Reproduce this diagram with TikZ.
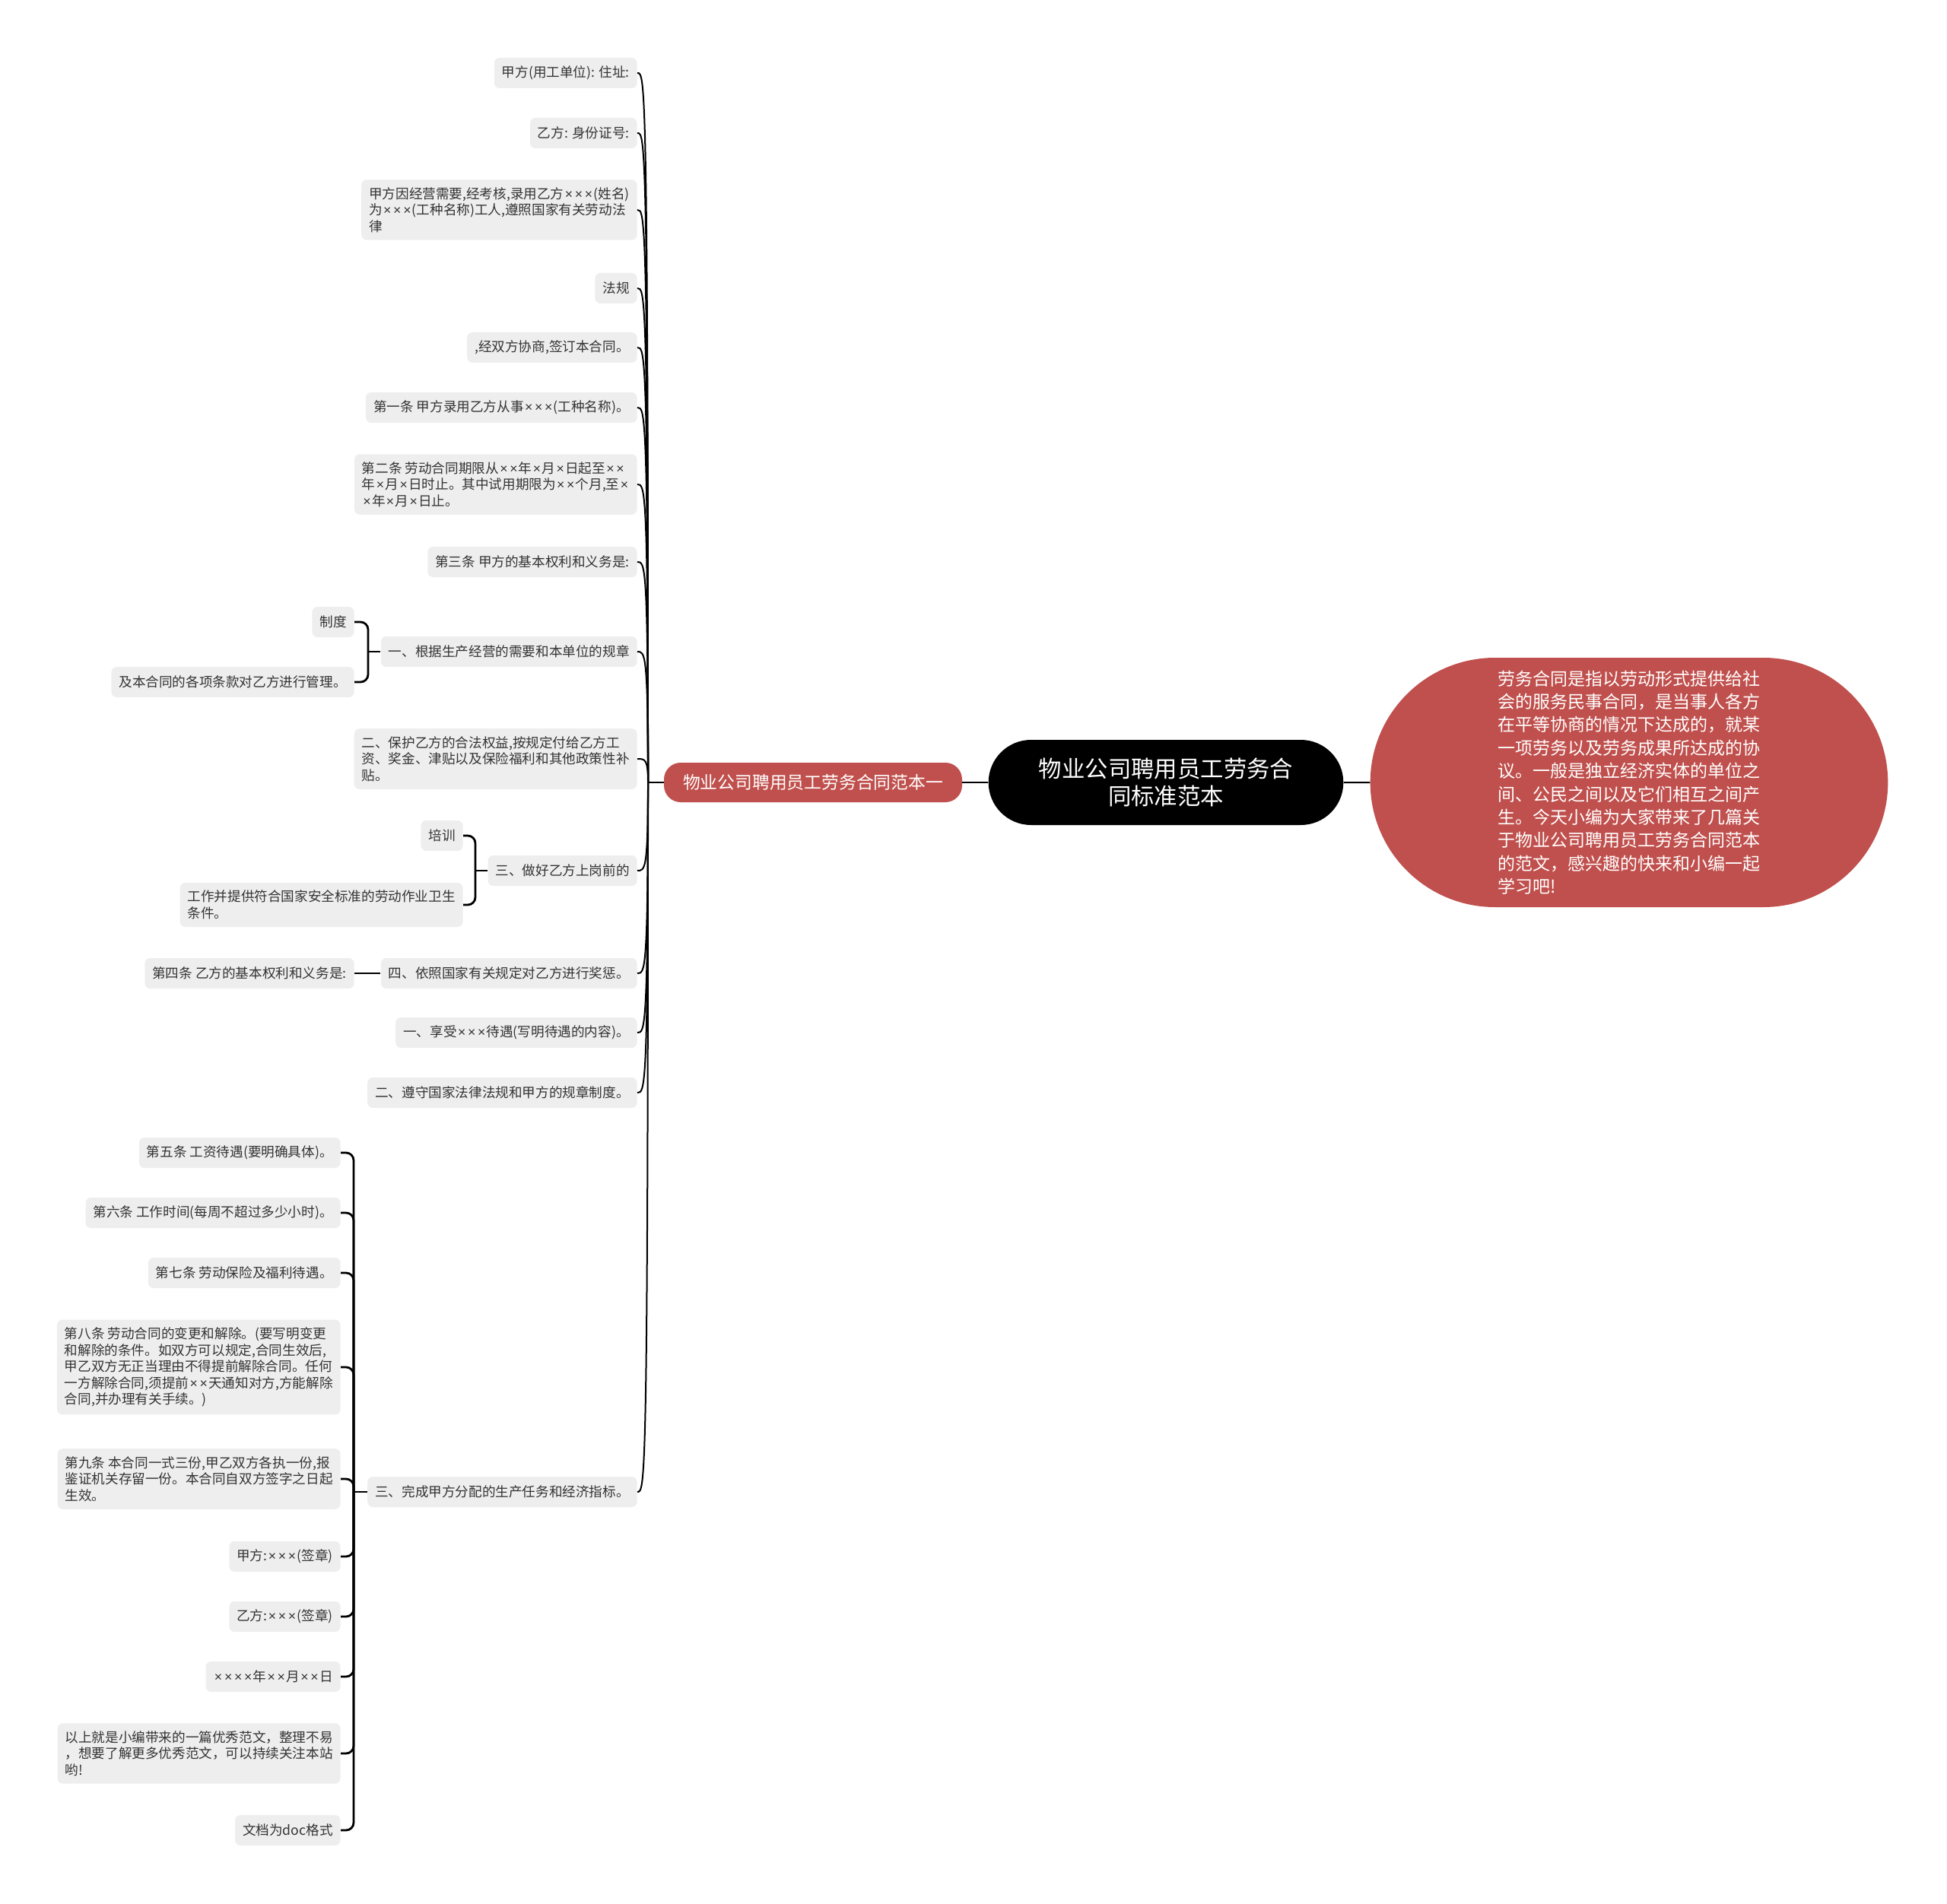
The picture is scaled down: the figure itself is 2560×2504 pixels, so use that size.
\documentclass[tikz,border=0pt]{standalone}
\usepackage{fontspec}
\newfontfamily\cjk{Noto Sans CJK SC}
\newfontfamily\latin{Liberation Sans}
\newcommand\mul{\makebox[0.74em]{\latin ×}}
\usetikzlibrary{shapes.misc}
\definecolor{leafgray}{HTML}{EEEEEE}
\definecolor{brickred}{HTML}{C0504D}
\definecolor{inkgray}{HTML}{333333}

\begin{document}
\begin{tikzpicture}[
    x=0.5pt, y=-0.5pt,
    every node/.style={font=\cjk},
    leaf/.style={fill=leafgray, rounded corners=3.5pt, align=left, anchor=east, text=inkgray, inner xsep=5pt, inner ysep=5pt, minimum height=20pt, font=\cjk\fontsize{8.8}{10.8}\selectfont},
    branch/.style={fill=brickred, text=white, rounded corners=11pt, minimum width=196pt, minimum height=26pt, font=\cjk\fontsize{11.4}{13}\selectfont},
    topic/.style={rounded rectangle, fill=black, text=white, align=center, minimum width=240pt, minimum height=56pt, font=\cjk\fontsize{15.2}{18.3}\selectfont},
    intro/.style={rounded rectangle, fill=brickred, text=white, align=left, minimum width=347pt, minimum height=164pt, font=\cjk\fontsize{11.5}{15.2}\selectfont},
    link/.style={line width=1pt},
    bracket/.style={line width=1.4pt, rounded corners=5pt}
]
\useasboundingbox (0,0) rectangle (2560,2504);

% centre and the two first-level nodes
\node[topic] (topic) at (1533,1029) {物业公司聘用员工劳务合\\同标准范本};
\node[intro] (intro) at (2142,1029) {劳务合同是指以劳动形式提供给社\\会的服务民事合同，是当事人各方\\在平等协商的情况下达成的，就某\\一项劳务以及劳务成果所达成的协\\议。一般是独立经济实体的单位之\\间、公民之间以及它们相互之间产\\生。今天小编为大家带来了几篇关\\于物业公司聘用员工劳务合同范本\\的范文，感兴趣的快来和小编一起\\学习吧!};
\node[branch] (branch) at (1069,1029) {物业公司聘用员工劳务合同范本一};

% right column of leaves
\node[leaf] (a1) at (838,96) {甲方(用工单位): 住址:};
\node[leaf] (a2) at (838,175) {乙方: 身份证号:};
\node[leaf] (a3) at (838,276) {甲方因经营需要,经考核,录用乙方\mul\mul\mul(姓名)\\为\mul\mul\mul(工种名称)工人,遵照国家有关劳动法\\律};
\node[leaf] (a4) at (838,379) {法规};
\node[leaf] (a5) at (838,457) {,经双方协商,签订本合同。};
\node[leaf] (a6) at (838,536) {第一条 甲方录用乙方从事\mul\mul\mul(工种名称)。};
\node[leaf] (a7) at (838,637) {第二条 劳动合同期限从\mul\mul 年\mul 月\mul 日起至\mul\mul\\年\mul 月\mul 日时止。其中试用期限为\mul\mul 个月,至\mul\\\mul 年\mul 月\mul 日止。};
\node[leaf] (a8) at (838,739) {第三条 甲方的基本权利和义务是:};
\node[leaf] (b1) at (838,857) {一、根据生产经营的需要和本单位的规章};
\node[leaf] (b2) at (838,998) {二、保护乙方的合法权益,按规定付给乙方工\\资、奖金、津贴以及保险福利和其他政策性补\\贴。};
\node[leaf] (b3) at (838,1145) {三、做好乙方上岗前的};
\node[leaf] (b4) at (838,1280) {四、依照国家有关规定对乙方进行奖惩。};
\node[leaf] (c1) at (838,1358) {一、享受\mul\mul\mul 待遇(写明待遇的内容)。};
\node[leaf] (c2) at (838,1437) {二、遵守国家法律法规和甲方的规章制度。};
\node[leaf] (c3) at (838,1962) {三、完成甲方分配的生产任务和经济指标。};

% second-level leaves
\node[leaf] (b1a) at (466,818) {制度};
\node[leaf] (b1b) at (466,897) {及本合同的各项条款对乙方进行管理。};
\node[leaf] (b3a) at (609,1099) {培训};
\node[leaf] (b3b) at (609,1190) {工作并提供符合国家安全标准的劳动作业卫生\\条件。};
\node[leaf] (b4a) at (466,1280) {第四条 乙方的基本权利和义务是:};
\node[leaf] (d1) at (448,1516) {第五条 工资待遇(要明确具体)。};
\node[leaf] (d2) at (448,1595) {第六条 工作时间(每周不超过多少小时)。};
\node[leaf] (d3) at (448,1674) {第七条 劳动保险及福利待遇。};
\node[leaf] (d4) at (448,1798) {第八条 劳动合同的变更和解除。(要写明变更\\和解除的条件。如双方可以规定,合同生效后,\\甲乙双方无正当理由不得提前解除合同。任何\\一方解除合同,须提前\mul\mul 天通知对方,方能解除\\合同,并办理有关手续。)};
\node[leaf] (d5) at (448,1945) {第九条 本合同一式三份,甲乙双方各执一份,报\\鉴证机关存留一份。本合同自双方签字之日起\\生效。};
\node[leaf] (d6) at (448,2047) {甲方:\mul\mul\mul(签章)};
\node[leaf] (d7) at (448,2126) {乙方:\mul\mul\mul(签章)};
\node[leaf] (d8) at (448,2205) {\mul\mul\mul\mul 年\mul\mul 月\mul\mul 日};
\node[leaf] (d9) at (448,2306) {以上就是小编带来的一篇优秀范文，整理不易\\，想要了解更多优秀范文，可以持续关注本站\\哟!};
\node[leaf] (d10) at (448,2407) {文档为doc格式};

% connectors
\draw[link] (topic) -- (intro);
\draw[link] (topic) -- (branch);
\coordinate (hub) at (852,1029);
\draw[link] (branch.west) -- (hub);
\foreach \n in {a1,a2,a3,a4,a5,a6,a7,a8,b1,b2,b3,b4,c1,c2,c3}
  \draw[link] (hub) .. controls (hub |- \n.east) and ([xshift=5pt]\n.east) .. (\n.east);

\coordinate (b1hub) at (484,857);
\draw[bracket] (b1.west) -- (b1hub);
\draw[bracket] (b1a.east) -| (b1hub) |- (b1b.east);

\coordinate (b3hub) at (625,1145);
\draw[bracket] (b3.west) -- (b3hub);
\draw[bracket] (b3a.east) -| (b3hub) |- (b3b.east);

\draw[bracket] (b4.west) -- (b4a.east);

\coordinate (c3hub) at (465,1962);
\draw[bracket] (c3.west) -- (c3hub);
\draw[bracket] (d1.east) -| (c3hub) |- (d10.east);
\foreach \n in {d2,d3,d4,d5,d6,d7,d8,d9}
  \draw[bracket] (c3hub) |- (\n.east);
\end{tikzpicture}
\end{document}
